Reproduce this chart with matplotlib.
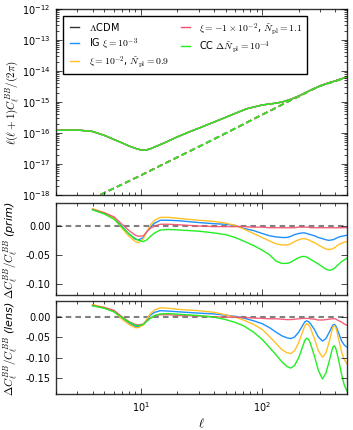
import matplotlib
matplotlib.use("Agg")
import matplotlib.pyplot as plt
import numpy as np

plt.style.use("classic")
plt.rcParams["mathtext.fontset"] = "cm"
plt.rcParams["font.family"] = ["DejaVu Sans"]
plt.rcParams["figure.facecolor"] = "white"

# ---------------- data ----------------
labels = [r"$\Lambda$CDM",
          r"IG $\xi=10^{-3}$",
          r"$\xi=10^{-2}$, $\tilde{N}_{\rm pl}=0.9$",
          r"$\xi=-1\times10^{-2}$, $\tilde{N}_{\rm pl}=1.1$",
          r"CC $\Delta\tilde{N}_{\rm pl}=10^{-4}$"]
colors = ["#333333", "#1e90ff", "#ffc125", "#f0506a", "#22ee22"]

ell_top = [2, 3, 4, 5, 6, 7, 8, 9, 10, 10.5, 11, 12, 14, 16, 20, 25, 30, 40, 50,
           60, 75, 100, 125, 142, 150, 175, 195, 200, 250, 300, 350, 400, 450, 500]
cl_total = [1.22e-16, 1.25e-16, 1.12e-16, 8.4e-17, 6.2e-17, 4.8e-17, 3.8e-17,
            3.2e-17, 2.85e-17, 2.78e-17, 2.8e-17, 3.1e-17, 4.0e-17, 5.0e-17,
            7.5e-17, 1.08e-16, 1.43e-16, 2.24e-16, 3.2e-16, 4.3e-16, 6.1e-16,
            8.0e-16, 9.0e-16, 9.8e-16, 1.03e-15, 1.25e-15, 1.5e-15, 1.55e-15,
            2.4e-15, 3.3e-15, 4.1e-15, 4.8e-15, 5.6e-15, 6.5e-15]

ell_lens = [4, 5, 7, 10, 15, 20, 30, 50, 75, 100, 125, 150, 175, 200, 250, 300,
            350, 400, 450, 500]
cl_lens = [7.6e-19, 1.17e-18, 2.2e-18, 4.3e-18, 9.5e-18, 1.65e-17, 3.6e-17,
           9.8e-17, 2.2e-16, 3.9e-16, 6.0e-16, 8.7e-16, 1.18e-15, 1.5e-15,
           2.35e-15, 3.3e-15, 4.0e-15, 4.7e-15, 5.5e-15, 6.4e-15]

ell_r = [4, 5, 6, 7, 8, 9, 9.6, 10.5, 11.2, 12, 13, 14.5, 17, 21, 30, 40, 50, 60,
         70, 85, 100, 115, 130, 145, 160, 172, 185, 200, 215, 224, 232, 241, 250,
         270, 290, 314, 335, 356, 375, 384, 392, 401, 410, 430, 450, 475, 500]

# primordial ratio
prim_blue = [0.029, 0.022, 0.014, -0.001, -0.014, -0.023, -0.024, -0.020, -0.010,
             -0.002, 0.005, 0.010, 0.010, 0.009, 0.006, 0.004, 0.003, 0.001,
             -0.004, -0.008, -0.013, -0.017, -0.019, -0.020, -0.020, -0.018,
             -0.015, -0.013, -0.012, -0.012, -0.013, -0.014, -0.015, -0.017,
             -0.020, -0.022, -0.024, -0.025, -0.024, -0.024, -0.023, -0.022,
             -0.021, -0.019, -0.018, -0.017, -0.016]
prim_orange = [0.030, 0.023, 0.014, -0.004, -0.018, -0.027, -0.029, -0.022, -0.010,
               0.002, 0.010, 0.015, 0.015, 0.013, 0.010, 0.008, 0.005, 0.001,
               -0.005, -0.013, -0.020, -0.026, -0.031, -0.033, -0.033, -0.031,
               -0.027, -0.024, -0.022, -0.022, -0.023, -0.024, -0.026, -0.029,
               -0.033, -0.037, -0.040, -0.041, -0.040, -0.039, -0.038, -0.037,
               -0.035, -0.032, -0.030, -0.028, -0.027]
prim_red = [0.029, 0.023, 0.016, 0.003, -0.008, -0.016, -0.018, -0.017, -0.010,
            -0.004, 0.000, 0.003, 0.003, 0.002, 0.000, -0.001, -0.001, -0.001,
            -0.001, -0.002, -0.002, -0.003, -0.003, -0.003, -0.003, -0.003,
            -0.003, -0.002, -0.002, -0.002, -0.002, -0.002, -0.003, -0.003,
            -0.003, -0.003, -0.003, -0.003, -0.003, -0.003, -0.003, -0.003,
            -0.003, -0.003, -0.003, -0.003, -0.003]
prim_green = [0.028, 0.021, 0.012, -0.002, -0.014, -0.022, -0.025, -0.027, -0.024,
              -0.018, -0.012, -0.007, -0.006, -0.007, -0.009, -0.012, -0.015,
              -0.020, -0.026, -0.034, -0.042, -0.050, -0.061, -0.065, -0.065,
              -0.063, -0.059, -0.055, -0.053, -0.053, -0.054, -0.056, -0.058,
              -0.062, -0.066, -0.071, -0.075, -0.077, -0.076, -0.075, -0.074,
              -0.072, -0.070, -0.066, -0.062, -0.059, -0.056]

# lensing ratio
lens_blue = [0.029, 0.023, 0.015, -0.002, -0.015, -0.023, -0.023, -0.018, -0.007,
             0.005, 0.012, 0.016, 0.015, 0.013, 0.010, 0.008, 0.005, 0.002,
             -0.002, -0.009, -0.016, -0.026, -0.037, -0.046, -0.051, -0.053,
             -0.049, -0.037, -0.021, -0.012, -0.009, -0.011, -0.016, -0.031,
             -0.049, -0.059, -0.053, -0.038, -0.024, -0.019, -0.018, -0.020,
             -0.025, -0.042, -0.058, -0.069, -0.074]
lens_orange = [0.031, 0.024, 0.015, -0.005, -0.018, -0.026, -0.026, -0.019, -0.005,
               0.009, 0.018, 0.023, 0.022, 0.019, 0.016, 0.012, 0.006, 0.000,
               -0.007, -0.018, -0.030, -0.048, -0.065, -0.080, -0.088, -0.090,
               -0.083, -0.063, -0.037, -0.022, -0.016, -0.019, -0.027, -0.054,
               -0.083, -0.099, -0.088, -0.062, -0.034, -0.024, -0.021, -0.024,
               -0.032, -0.058, -0.085, -0.105, -0.115]
lens_red = [0.029, 0.024, 0.017, 0.001, -0.011, -0.018, -0.019, -0.017, -0.009,
            -0.002, 0.004, 0.006, 0.006, 0.004, 0.003, 0.001, 0.000, 0.000,
            -0.001, -0.002, -0.003, -0.004, -0.004, -0.005, -0.006, -0.006,
            -0.005, -0.004, -0.003, -0.003, -0.003, -0.003, -0.004, -0.005,
            -0.007, -0.007, -0.006, -0.005, -0.004, -0.004, -0.004, -0.004,
            -0.006, -0.009, -0.012, -0.017, -0.020]
lens_green = [0.028, 0.022, 0.013, -0.001, -0.012, -0.020, -0.021, -0.018, -0.010,
              -0.003, 0.004, 0.008, 0.009, 0.007, 0.004, 0.000, -0.006, -0.013,
              -0.021, -0.037, -0.055, -0.075, -0.093, -0.110, -0.122, -0.126,
              -0.119, -0.100, -0.074, -0.058, -0.052, -0.055, -0.065, -0.097,
              -0.131, -0.153, -0.138, -0.110, -0.083, -0.073, -0.071, -0.074,
              -0.084, -0.111, -0.140, -0.168, -0.183]

prim_sets = [prim_blue, prim_orange, prim_red, prim_green]
lens_sets = [lens_blue, lens_orange, lens_red, lens_green]

# ---------------- figure ----------------
W, H = 353, 431
fig = plt.figure(figsize=(W / 100, H / 100), dpi=100)
left, width = 56 / W, 291 / W
ax1 = fig.add_axes([left, (H - 196) / H, width, 186 / H])
ax2 = fig.add_axes([left, (H - 296) / H, width, 92 / H])
ax3 = fig.add_axes([left, (H - 395) / H, width, 93 / H])

lw = 1.0
dash = (0, (4, 2.5))
for i, (lab, c) in enumerate(zip(labels, colors)):
    ax1.plot(ell_top, cl_total, color=c, lw=lw, label=lab)
for i, c in enumerate(colors):
    ax1.plot(ell_lens, cl_lens, color=c, lw=lw * 1.2, ls=dash)

ax1.set_xscale("log")
ax1.set_yscale("log")
ax1.set_xlim(2, 500)
ax1.set_ylim(1e-18, 1e-12)
ax1.set_ylabel(r"$\ell(\ell+1)C_\ell^{BB}/(2\pi)$", fontsize=8, labelpad=1)
ax1.tick_params(labelbottom=False)
leg = ax1.legend(loc="upper left", ncol=2, fontsize=7, frameon=True,
                 handlelength=1.5, handletextpad=0.7, borderpad=0.45,
                 labelspacing=0.3, columnspacing=0.9,
                 bbox_to_anchor=(0.008, 0.99))
leg.get_frame().set_linewidth(1.0)
leg.get_frame().set_edgecolor("black")

for ax, sets, name in [(ax2, prim_sets, "prim"), (ax3, lens_sets, "lens")]:
    ax.axhline(0.0, color="gray", lw=1.5, ls=(0, (4, 3)), zorder=1)
    for s, c in zip(sets, colors[1:]):
        alpha = 0.9 if c == "#f0506a" else 1.0
        ax.plot(ell_r, s, color=c, lw=lw, alpha=alpha)
    ax.set_xscale("log")
    ax.set_xlim(2, 500)
    ax.set_yticks([0.0, -0.05, -0.10, -0.15] if name == "lens" else [0.0, -0.05, -0.10])
    ax.yaxis.set_major_formatter(matplotlib.ticker.FormatStrFormatter("%.2f"))
    ax.set_ylabel(r"$\Delta C_\ell^{BB}/C_\ell^{BB}$ (" + name + ")", fontsize=8,
                  fontstyle="italic", labelpad=4)

ax2.set_ylim(-0.12, 0.04)
ax3.set_ylim(-0.19, 0.04)
ax2.tick_params(labelbottom=False)
ax3.set_xlabel(r"$\ell$", fontsize=9, labelpad=2)

for ax in (ax1, ax2, ax3):
    ax.tick_params(which="both", direction="in", top=True, right=True, labelsize=7)
    ax.tick_params(which="major", length=4)
    ax.tick_params(which="minor", length=2)
    for sp in ax.spines.values():
        sp.set_color("#333333")
        sp.set_linewidth(1.0)

ax1.yaxis.set_major_locator(matplotlib.ticker.LogLocator(base=10, numticks=10))

fig.savefig("out.png", dpi=100)
